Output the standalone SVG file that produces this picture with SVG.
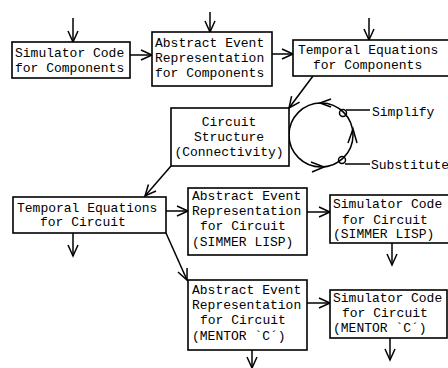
<svg xmlns="http://www.w3.org/2000/svg" width="448" height="368" viewBox="0 0 448 368">
<defs>
<marker id="ah" markerUnits="userSpaceOnUse" markerWidth="14" markerHeight="12" viewBox="0 0 14 12" refX="12" refY="6" orient="auto">
<path d="M1,1 L12,6 L1,11" fill="none" stroke="#000" stroke-width="1.5"/>
</marker>
<style>
rect{fill:#fff;stroke:#000;stroke-width:1.6}
text{font-family:"Liberation Mono","DejaVu Sans Mono",monospace;font-size:13px;fill:#000}
.c{text-anchor:middle}
.ln{fill:none;stroke:#000;stroke-width:1.5}
.ar{marker-end:url(#ah)}
</style>
</defs>
<g id="connectors">
<line class="ln ar" x1="73" y1="18" x2="73" y2="42"/>
<line class="ln ar" x1="210" y1="12" x2="210" y2="32"/>
<line class="ln ar" x1="369" y1="18" x2="369" y2="40"/>
<line class="ln ar" x1="130" y1="55" x2="152" y2="55"/>
<line class="ln ar" x1="272" y1="54" x2="293" y2="54"/>
<line class="ln ar" x1="313" y1="76" x2="289" y2="108"/>
<line class="ln ar" x1="171" y1="166" x2="145" y2="196"/>
<line class="ln ar" x1="73" y1="233" x2="73" y2="256"/>
<line class="ln ar" x1="166" y1="211" x2="188" y2="211"/>
<line class="ln ar" x1="166" y1="233" x2="187" y2="280"/>
<line class="ln ar" x1="307" y1="212" x2="330" y2="212"/>
<line class="ln ar" x1="392" y1="243" x2="392" y2="265"/>
<line class="ln ar" x1="307" y1="303" x2="330" y2="303"/>
<line class="ln ar" x1="252" y1="350" x2="252" y2="368"/>
<line class="ln ar" x1="390" y1="338" x2="390" y2="360"/>
</g>
<g id="loop">
<circle class="ln" cx="321" cy="135" r="32"/>
<path class="ln" d="M331,99 L320,103 L331,107"/>
<path class="ln" d="M348,143 L353,129 L357,143"/>
<path class="ln" d="M311,162 L324,167 L312,172"/>
<circle class="ln" cx="343" cy="113" r="3.5"/>
<circle class="ln" cx="342" cy="160" r="3.5"/>
<line class="ln" x1="346" y1="110" x2="370" y2="110" stroke-width="1.2"/>
<line class="ln" x1="345" y1="164" x2="370" y2="164" stroke-width="1.2"/>
<text x="372" y="116">Simplify</text>
<text x="371" y="169">Substitute</text>
</g>
<g id="simcomp">
<rect x="12" y="42" width="118" height="36"/>
<text x="15" y="57">Simulator Code</text>
<text x="15" y="72">for Components</text>
</g>
<g id="abscomp">
<rect x="152" y="32" width="120" height="54"/>
<text x="155" y="47">Abstract Event</text>
<text x="155" y="62">Representation</text>
<text x="155" y="77">for Components</text>
</g>
<g id="tempcomp">
<rect x="293" y="40" width="160" height="36"/>
<text x="298" y="54">Temporal Equations</text>
<text x="313" y="69">for Components</text>
</g>
<g id="circuit">
<rect x="171" y="108" width="118" height="58"/>
<text class="c" x="229" y="126">Circuit</text>
<text class="c" x="229" y="141">Structure</text>
<text class="c" x="229" y="156">(Connectivity)</text>
</g>
<g id="tempcirc">
<rect x="13" y="197" width="153" height="36"/>
<text x="17" y="212">Temporal Equations</text>
<text x="40" y="226">for Circuit</text>
</g>
<g id="abssimmer">
<rect x="188" y="188" width="119" height="67"/>
<text x="192" y="200">Abstract Event</text>
<text x="192" y="215">Representation</text>
<text x="200" y="230">for Circuit</text>
<text x="192" y="246">(SIMMER LISP)</text>
</g>
<g id="simsimmer">
<rect x="330" y="195" width="122" height="48"/>
<text x="333" y="208">Simulator Code</text>
<text x="342" y="224">for Circuit</text>
<text x="333" y="238">(SIMMER LISP)</text>
</g>
<g id="absmentor">
<rect x="188" y="280" width="119" height="70"/>
<text x="192" y="294">Abstract Event</text>
<text x="192" y="309">Representation</text>
<text x="200" y="324">for Circuit</text>
<text x="192" y="340">(MENTOR `C´)</text>
</g>
<g id="simmentor">
<rect x="330" y="290" width="117" height="48"/>
<text x="333" y="302">Simulator Code</text>
<text x="342" y="317">for Circuit</text>
<text x="333" y="332">(MENTOR `C´)</text>
</g>
</svg>
